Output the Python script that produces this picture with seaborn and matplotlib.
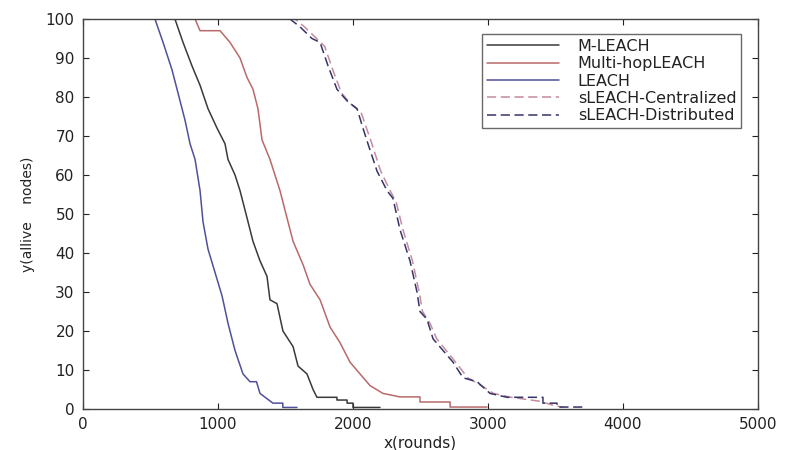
import numpy as np
import pandas as pd
import matplotlib
matplotlib.use("Agg")
import matplotlib.pyplot as plt
import seaborn as sns

# ---- data (rounds, alive nodes) ----
mleach_x = [0, 681, 741, 807, 867, 926, 993, 1052, 1074, 1126, 1163, 1215, 1259, 1311, 1363,
            1385, 1437, 1481, 1556, 1593, 1659, 1704, 1733, 1881, 1881, 1956, 1956, 2000, 2000, 2200]
mleach_y = [100, 100, 94, 88, 83, 77, 72, 68, 64, 60, 56, 49, 43, 38, 34,
            28, 27, 20, 16, 11, 9, 5, 3, 3, 2.3, 2.3, 1.5, 1.5, 0.4, 0.4]

multihop_x = [0, 830, 867, 1015, 1089, 1163, 1215, 1259, 1296, 1326, 1385, 1459, 1511, 1556,
              1630, 1681, 1756, 1830, 1904, 1978, 2052, 2126, 2222, 2348, 2496, 2496, 2719, 2719, 2993]
multihop_y = [100, 100, 97, 97, 94, 90, 85, 82, 77, 69, 64, 56, 49, 43,
              37, 32, 28, 21, 17, 12, 9, 6, 4, 3.1, 3.1, 1.8, 1.8, 0.5, 0.5]

leach_x = [0, 533, 593, 659, 704, 756, 793, 830, 867, 889, 926, 978, 1030, 1074, 1126,
           1185, 1237, 1285, 1311, 1407, 1480, 1480, 1585]
leach_y = [100, 100, 94, 87, 81, 74, 68, 64, 56, 48, 41, 35, 29, 22, 15,
           9, 7, 7, 4, 1.5, 1.5, 0.4, 0.4]

scent_x = [0, 1570, 1640, 1730, 1790, 1850, 1915, 1990, 2060, 2100, 2140, 2205, 2275, 2320,
           2370, 2440, 2490, 2515, 2570, 2620, 2690, 2760, 2850, 2950, 3040, 3170, 3380, 3480, 3560]
scent_y = [100, 100, 98, 95, 93, 87, 81, 78, 76, 72, 68, 61, 56, 53,
           46, 38, 30, 25, 22, 18, 15, 12, 8, 6, 4, 3, 2, 1, 0.4]

sdist_x = [0, 1533, 1607, 1696, 1756, 1815, 1881, 1956, 2030, 2074, 2111, 2178, 2252, 2296,
           2348, 2422, 2474, 2496, 2548, 2593, 2667, 2741, 2815, 2919, 3015, 3141, 3407, 3407,
           3511, 3511, 3704]
sdist_y = [100, 100, 98, 95, 94, 88, 82, 79, 77, 72, 68, 61, 56, 54,
           46, 38, 30, 25, 23, 18, 15, 12, 8, 7, 4, 3, 3, 1.5,
           1.5, 0.5, 0.5]

labels = ["M-LEACH", "Multi-hopLEACH", "LEACH", "sLEACH-Centralized", "sLEACH-Distributed"]
xticks = [0, 1000, 2000, 3000, 4000, 5000]
yticks = [0, 10, 20, 30, 40, 50, 60, 70, 80, 90, 100]

series = [
    (labels[0], mleach_x, mleach_y, "#3a3a3a", None),
    (labels[1], multihop_x, multihop_y, "#b86a6a", None),
    (labels[2], leach_x, leach_y, "#50509a", None),
    (labels[3], scent_x, scent_y, "#c48c9c", (6, 3)),
    (labels[4], sdist_x, sdist_y, "#34346a", (6, 3)),
]

sns.set_theme(style="ticks")
plt.rcParams["font.family"] = ["DejaVu Sans"]

fig = plt.figure(figsize=(7.87, 4.5), dpi=100)
ax = fig.add_axes([83 / 787, 1 - 409 / 450, 675 / 787, 390 / 450])

for name, xs, ys, col, dash in series:
    df = pd.DataFrame({"rounds": xs, "alive": ys})
    sns.lineplot(data=df, x="rounds", y="alive", ax=ax, color=col, label=name,
                 sort=False, estimator=None, linewidth=1.1)
    if dash is not None:
        ax.lines[-1].set_dashes(dash)

ax.set_xlim(0, 5000)
ax.set_ylim(0, 100)
ax.set_xticks(xticks)
ax.set_yticks(yticks)
ax.set_xticklabels([str(v) for v in xticks], fontsize=11)
ax.set_yticklabels([str(v) for v in yticks], fontsize=11)
ax.tick_params(direction="in", length=4, width=0.8, top=True, right=True,
               colors="#222222", pad=6)
for sp in ax.spines.values():
    sp.set_visible(True)
    sp.set_color("#444444")
    sp.set_linewidth(1.0)

ax.set_xlabel("x(rounds)", fontsize=11, color="#222222", labelpad=2)
ax.set_ylabel("y(allive    nodes)", fontsize=10, color="#222222", labelpad=8)

leg = ax.legend(loc="upper right", bbox_to_anchor=(0.987, 0.982), fontsize=11.5,
                handlelength=4.5, frameon=True, fancybox=False, edgecolor="#444444",
                borderpad=0.3, labelspacing=0.15, handletextpad=1.2)
leg.get_frame().set_linewidth(1.0)
for t in leg.get_texts():
    t.set_color("#222222")

fig.savefig("out.png", dpi=100, facecolor="white")
